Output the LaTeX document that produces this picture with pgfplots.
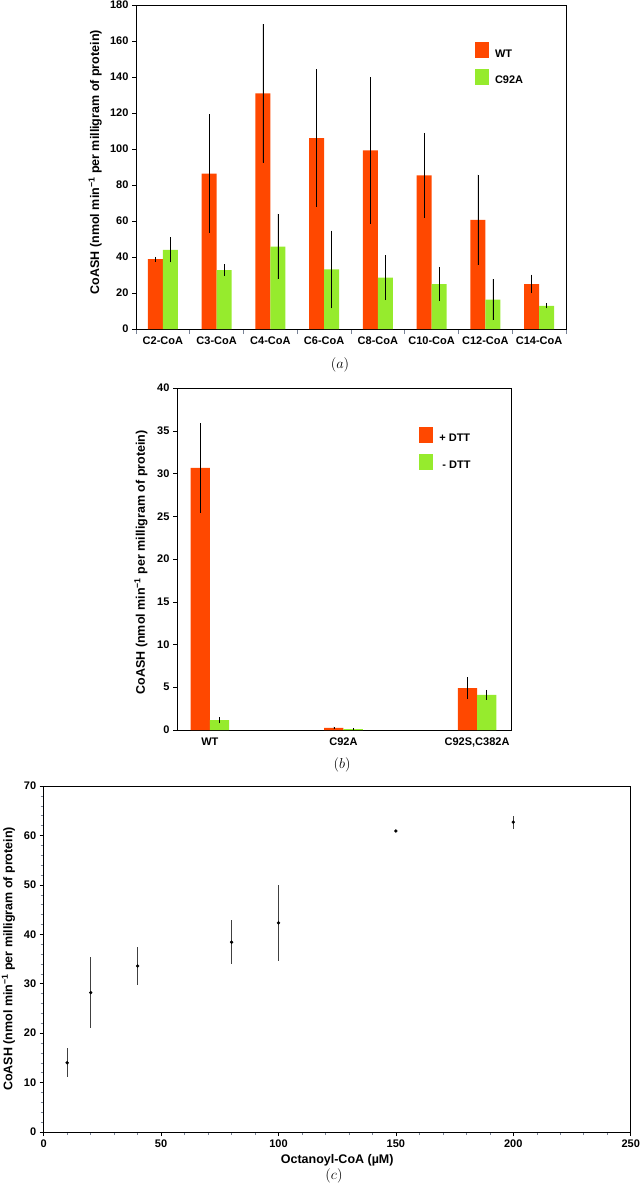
\documentclass[border=0pt]{standalone}
\usepackage{pgfplots}
\pgfplotsset{compat=1.18}
\usepackage[no-math]{fontspec}
\setmainfont{Liberation Sans}
\definecolor{wtred}{RGB}{255,72,0}
\definecolor{mutgreen}{RGB}{150,235,45}
\definecolor{tickgray}{RGB}{120,130,150}

\pgfplotsset{
  myaxis/.style={
    scale only axis,
    axis line style={line width=0.9pt},
    tick align=outside,
    xtick pos=left, ytick pos=left,
    ticklabel style={font=\bfseries\fontsize{11}{13}\selectfont},
    label style={font=\bfseries\fontsize{12.5}{14}\selectfont},
    /pgf/number format/assume math mode=true,
    major tick length=4pt, minor tick length=3pt,
    tick style={black, line width=0.5pt},
    legend style={draw=none, fill=none, inner sep=0pt, row sep=8.4pt, column sep=4pt,
      font=\bfseries\fontsize{11}{13}\selectfont},
    legend cell align=left,
  },
  sqleg/.style={legend image code/.code={\fill[##1] (0pt,-4.4pt) rectangle (14pt,11.6pt);}},
  ebar/.style={error bars/y dir=both, error bars/y explicit, error bars/error mark=none,
    error bars/error bar style={black, line width=0.6pt}},
}
\newcommand{\ylab}{CoASH (nmol min\textsuperscript{−1} per milligram of protein)}

\begin{document}
\begin{tikzpicture}
\useasboundingbox (0,0) rectangle (640pt,-1194pt);

% ---------------- (a) ----------------
\begin{axis}[myaxis, at={(136pt,-329pt)}, anchor=south west,
  width=430pt, height=324pt,
  ybar=0pt, bar width=15pt,
  xmin=-0.5, xmax=7.5, ymin=0, ymax=180, ytick={0,20,...,180},
  xtick={0,...,7},
  xticklabels={C2-CoA,C3-CoA,C4-CoA,C6-CoA,C8-CoA,C10-CoA,C12-CoA,C14-CoA},
  major x tick style={draw=none},
  minor xtick={-0.5,0.5,...,7.5}, minor x tick style={tickgray, line width=0.6pt},
  minor tick length=5pt,
  ylabel={\ylab},
  ylabel style={at={(axis description cs:-0.095,0.515)}, anchor=center},
  legend style={at={(0.788,0.885)}, anchor=north west}]
\addplot[fill=wtred, draw=none, ebar, sqleg]
  coordinates {(0,38.8) +- (0,1.3) (1,86.3) +- (0,32.9) (2,130.9) +- (0,38.5)
               (3,106.1) +- (0,38.1) (4,99.3) +- (0,40.7) (5,85.4) +- (0,23.5)
               (6,60.6) +- (0,25.1) (7,25.0) +- (0,5.2)};
\addplot[fill=mutgreen, draw=none, ebar, sqleg]
  coordinates {(0,44.0) +- (0,7.0) (1,32.7) +- (0,3.2) (2,45.8) +- (0,18.1)
               (3,33.1) +- (0,21.6) (4,28.5) +- (0,12.5) (5,25.0) +- (0,9.5)
               (6,16.3) +- (0,11.4) (7,12.9) +- (0,1.5)};
\legend{WT,C92A}
\end{axis}
\node at (340pt,-365pt) {\fontsize{15}{18}\selectfont$(a)$};

% ---------------- (b) ----------------
\begin{axis}[myaxis, at={(177pt,-730pt)}, anchor=south west,
  width=334pt, height=342pt,
  ybar=0pt, bar width=19.3pt,
  xmin=-0.246, xmax=2.254, ymin=0, ymax=40, ytick={0,5,...,40},
  xtick={0,1,2}, xticklabels={WT,C92A,{C92S,C382A}},
  major x tick style={draw=none},
  ylabel={\ylab},
  ylabel style={at={(axis description cs:-0.108,0.49)}, anchor=center},
  legend style={at={(0.725,0.886)}, anchor=north west}]
\addplot[fill=wtred, draw=none, ebar, sqleg]
  coordinates {(0,30.65) +- (0,5.25) (1,0.25) +- (0,0.15) (2,4.9) +- (0,1.28)};
\addplot[fill=mutgreen, draw=none, ebar, sqleg]
  coordinates {(0,1.15) +- (0,0.35) (1,0.1) +- (0,0.1) (2,4.1) +- (0,0.58)};
\legend{+ DTT,\ - DTT}
\end{axis}
\node at (342pt,-765pt) {\fontsize{15}{18}\selectfont$(b)$};

% ---------------- (c) ----------------
\begin{axis}[myaxis, at={(43.7pt,-1132pt)}, anchor=south west,
  width=587pt, height=346pt,
  xmin=0, xmax=250, ymin=0, ymax=70,
  xtick={0,50,...,250}, ytick={0,10,...,70},
  minor x tick num=4, minor y tick num=4,
  minor tick style={tickgray, line width=0.5pt},
  xlabel={Octanoyl-CoA (µM)}, ylabel={\ylab},
  ylabel style={at={(axis description cs:-0.06,0.5)}, anchor=center}]
\addplot[only marks, mark=*, mark size=1.5pt, black,
  error bars/y dir=both, error bars/y explicit, error bars/error mark=none,
  error bars/error bar style={black!75, line width=0.9pt}]
  coordinates {(10,14.0) +- (0,2.9) (20,28.2) +- (0,7.2) (40,33.6) +- (0,3.9)
               (80,38.4) +- (0,4.5) (100,42.3) +- (0,7.7) (150,60.9) +- (0,0.3)
               (200,62.7) +- (0,1.3)};
\end{axis}
\node at (334pt,-1176pt) {\fontsize{15}{18}\selectfont$(c)$};
\end{tikzpicture}
\end{document}
